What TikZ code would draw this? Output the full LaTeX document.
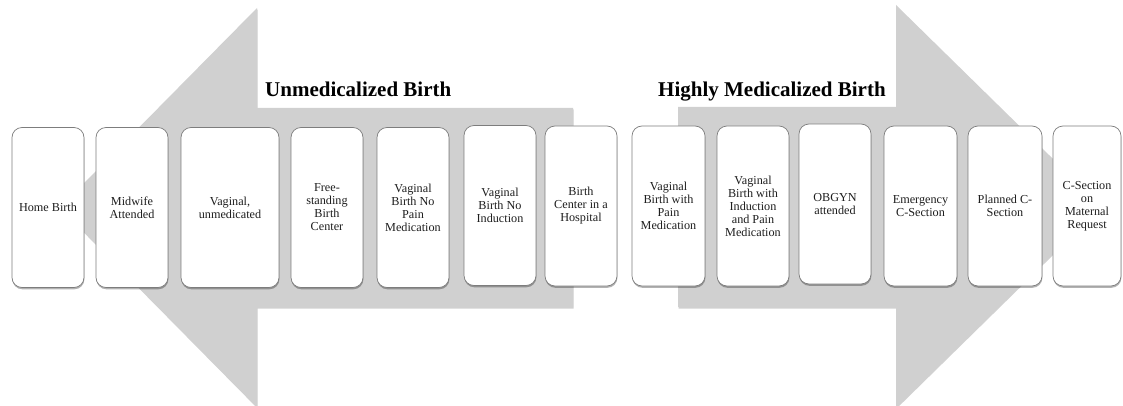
\documentclass[tikz,border=0pt]{standalone}
\usepackage{fontspec}
\setmainfont{Liberation Serif}
\usetikzlibrary{shadows}
\definecolor{arrowgray}{RGB}{208,208,208}
\definecolor{boxline}{RGB}{125,125,125}
\definecolor{boxtext}{RGB}{30,30,30}
\begin{document}
\begin{tikzpicture}[x=1pt,y=-1pt,
  stagebox/.style={draw=boxline, line width=0.7pt, fill=white, rounded corners=10pt,
    minimum height=160pt, minimum width=72pt, inner sep=1pt, align=center,
    font=\fontsize{12.2}{13}\selectfont, text=boxtext,
    drop shadow={shadow xshift=0.4pt, shadow yshift=-1.8pt, opacity=0.3, fill=black}},
  arrowshape/.style={fill=arrowgray, draw=none,
    drop shadow={shadow xshift=0.6pt, shadow yshift=-1.5pt, opacity=0.18, fill=black}},
  titletext/.style={font=\fontsize{21}{24}\selectfont\bfseries, anchor=base west, inner sep=0pt, text=black}]
\useasboundingbox (0,0) rectangle (1123,406);
\fill[white] (0,0) rectangle (1123,406);
\begin{scope}
\clip (0,0) rectangle (1123,406);
% left arrow
\path[arrowshape] (573,108) -- (257,108) -- (257,8) -- (60,207.5) -- (257,407) -- (257,307) -- (573,307) -- cycle;
% right arrow
\path[arrowshape] (678,107) -- (896,107) -- (896,5) -- (1101,206) -- (896,407) -- (896,307) -- (678,307) -- cycle;
\end{scope}
% titles
\node[titletext] (t1) at (265,97) {Unmedicalized Birth};
\node[titletext] (t2) at (658,97) {Highly Medicalized Birth};
% boxes
\node[stagebox] (b1) at (48,207.5) {Home Birth};
\node[stagebox] (b2) at (132,207.5) {Midwife\\Attended};
\node[stagebox, minimum width=98pt] (b3) at (230,207.5) {Vaginal,\\unmedicated};
\node[stagebox] (b4) at (327,207.5) {Free-\\standing\\Birth\\Center};
\node[stagebox] (b5) at (413,207.5) {Vaginal\\Birth No\\Pain\\Medication};
\node[stagebox] (b6) at (500,205.5) {Vaginal\\Birth No\\Induction};
\node[stagebox] (b7) at (581,206) {Birth\\Center in a\\Hospital};
\node[stagebox, minimum width=73pt] (b8) at (668.5,206) {Vaginal\\Birth with\\Pain\\Medication};
\node[stagebox] (b9) at (753,206) {Vaginal\\Birth with\\Induction\\and Pain\\Medication};
\node[stagebox] (b10) at (835,204) {OBGYN\\attended};
\node[stagebox, minimum width=73pt] (b11) at (920.5,206) {Emergency\\C-Section};
\node[stagebox, minimum width=74pt] (b12) at (1005,206) {Planned C-\\Section};
\node[stagebox, minimum width=68pt] (b13) at (1087,206) {C-Section\\on\\Maternal\\Request};
\end{tikzpicture}
\end{document}
